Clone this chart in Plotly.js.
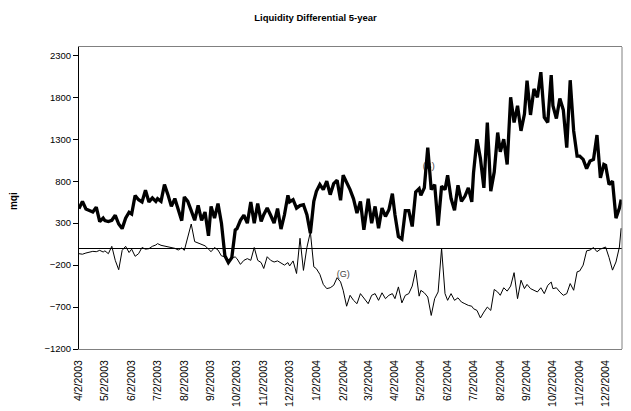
<!DOCTYPE html>
<html>
<head>
<meta charset="utf-8">
<script src="https://cdn.plot.ly/plotly-3.0.1.min.js"></script>
<style>html,body{margin:0;padding:0;background:#fff;}#chart{width:631px;height:411px;}</style>
</head>
<body>
<div id="chart"></div>
<script>
// Observation dates (every ~4 days)
const dates = [
 '2003-04-02','2003-04-06','2003-04-10','2003-04-14','2003-04-18','2003-04-22','2003-04-26','2003-04-30',
 '2003-05-02','2003-05-06','2003-05-10','2003-05-14','2003-05-18','2003-05-22','2003-05-26','2003-05-30',
 '2003-06-02','2003-06-06','2003-06-10','2003-06-14','2003-06-18','2003-06-22','2003-06-26','2003-06-30',
 '2003-07-02','2003-07-06','2003-07-10','2003-07-14','2003-07-18','2003-07-22','2003-07-26','2003-07-30',
 '2003-08-02','2003-08-06','2003-08-10','2003-08-14','2003-08-18','2003-08-22','2003-08-26','2003-08-30',
 '2003-09-02','2003-09-06','2003-09-10','2003-09-14','2003-09-18','2003-09-22','2003-09-26','2003-09-30',
 '2003-10-02','2003-10-06','2003-10-10','2003-10-14','2003-10-18','2003-10-22','2003-10-26','2003-10-30',
 '2003-11-02','2003-11-06','2003-11-10','2003-11-14','2003-11-18','2003-11-22','2003-11-26','2003-11-30',
 '2003-12-02','2003-12-06','2003-12-10','2003-12-14','2003-12-18','2003-12-22','2003-12-26','2003-12-30',
 '2004-01-02','2004-01-06','2004-01-10','2004-01-14','2004-01-18','2004-01-22','2004-01-26','2004-01-30',
 '2004-02-02','2004-02-06','2004-02-10','2004-02-14','2004-02-18','2004-02-22','2004-02-26',
 '2004-03-02','2004-03-06','2004-03-10','2004-03-14','2004-03-18','2004-03-22','2004-03-26','2004-03-30',
 '2004-04-02','2004-04-06','2004-04-10','2004-04-14','2004-04-18','2004-04-22','2004-04-26','2004-04-30',
 '2004-05-02','2004-05-06','2004-05-10','2004-05-14','2004-05-18','2004-05-22','2004-05-26','2004-05-30',
 '2004-06-02','2004-06-06','2004-06-10','2004-06-14','2004-06-18','2004-06-22','2004-06-26','2004-06-30',
 '2004-07-02','2004-07-06','2004-07-10','2004-07-14','2004-07-18','2004-07-22','2004-07-26','2004-07-30',
 '2004-08-02','2004-08-06','2004-08-10','2004-08-14','2004-08-18','2004-08-22','2004-08-26','2004-08-30',
 '2004-09-02','2004-09-06','2004-09-10','2004-09-14','2004-09-18','2004-09-22','2004-09-26','2004-09-30',
 '2004-10-02','2004-10-06','2004-10-10','2004-10-14','2004-10-18','2004-10-22','2004-10-26','2004-10-30',
 '2004-11-02','2004-11-06','2004-11-10','2004-11-14','2004-11-18','2004-11-22','2004-11-26','2004-11-30',
 '2004-12-02','2004-12-06','2004-12-10','2004-12-14','2004-12-18','2004-12-20'
];

// (S) series - thick line
const sValues = [
 473,560,470,453,433,490,320,360,
 330,320,334,394,290,235,360,430,
 410,630,580,553,692,553,600,560,
 593,560,760,640,500,593,453,330,
 612,560,450,334,513,334,433,150,
 500,360,533,300,-90,-170,-110,220,
 235,334,394,300,553,300,533,320,
 400,480,394,300,473,230,400,632,
 553,580,480,510,520,400,180,560,
 680,760,700,800,640,771,811,573,
 871,790,700,590,420,560,220,
 590,300,500,240,480,380,460,652,
 400,140,110,450,450,260,672,712,
 632,720,1200,700,760,270,740,700,
 871,593,453,752,560,620,720,553,
 900,1300,1070,720,1500,680,911,1380,
 1150,1300,1000,1800,1500,1700,1400,1600,
 2000,1590,1900,1800,2100,1560,1500,2064,
 1700,1547,1786,1650,1200,2004,1400,1100,
 1100,1060,951,1040,1060,1350,840,1000,
 990,760,800,360,480,580
];

// (G) series - thin line
const gValues = [
 -64,-70,-56,-44,-36,-40,-24,-44,
 -30,-64,24,-143,-255,-24,24,-50,
 -10,-95,-64,10,-10,-4,24,40,
 56,36,28,16,16,0,-20,5,
 -24,120,290,80,65,45,30,-10,
 -40,10,-20,-90,-100,-170,-110,-103,
 -123,-191,-143,-123,-143,10,-143,-170,
 -240,-100,-143,-163,-150,-175,-200,-170,
 -210,-150,-300,120,-263,10,195,-220,
 -243,-310,-430,-480,-470,-441,-350,-400,
 -500,-690,-560,-620,-660,-540,-600,
 -660,-560,-540,-620,-530,-600,-560,-540,
 -600,-460,-650,-560,-540,-450,-260,-570,
 -501,-530,-580,-800,-600,-520,0,-540,
 -620,-540,-620,-590,-640,-660,-680,-690,
 -720,-740,-830,-760,-700,-740,-490,-521,
 -560,-470,-510,-450,-290,-600,-380,-480,
 -430,-480,-500,-520,-470,-540,-441,-402,
 -481,-470,-520,-560,-540,-420,-500,-280,
 -270,-200,-30,-20,10,-40,-10,5,
 16,-110,-260,-163,16,240
];

const tickDates = ['2003-04-02','2003-05-02','2003-06-02','2003-07-02','2003-08-02','2003-09-02','2003-10-02',
 '2003-11-02','2003-12-02','2004-01-02','2004-02-02','2004-03-02','2004-04-02','2004-05-02','2004-06-02',
 '2004-07-02','2004-08-02','2004-09-02','2004-10-02','2004-11-02','2004-12-02'];
const tickLabels = ['4/2/2003','5/2/2003','6/2/2003','7/2/2003','8/2/2003','9/2/2003','10/2/2003',
 '11/2/2003','12/2/2003','1/2/2004','2/2/2004','3/2/2004','4/2/2004','5/2/2004','6/2/2004',
 '7/2/2004','8/2/2004','9/2/2004','10/2/2004','11/2/2004','12/2/2004'];

const seriesLabels = ['(S)','(G)'];
const labelDates = ['2004-05-11','2004-02-02'];
const labelValues = [975,-315];

const FONT = 'Liberation Sans, Arial, Helvetica, sans-serif';

const traces = [
 {x: labelDates, y: labelValues, text: seriesLabels, mode: 'text', type: 'scatter',
  textfont: {family: FONT, size: 9, color: '#444'}, hoverinfo: 'skip', showlegend: false},
 {x: dates, y: gValues, mode: 'lines', type: 'scatter', line: {color: '#000', width: 1}, showlegend: false},
 {x: dates, y: sValues, mode: 'lines', type: 'scatter', line: {color: '#000', width: 3.3}, showlegend: false}
];

const layout = {
 width: 631, height: 411,
 margin: {l: 79, r: 9, t: 47, b: 62},
 paper_bgcolor: '#fff', plot_bgcolor: '#fff',
 font: {family: FONT, color: '#000'},
 title: {text: '<b>Liquidity Differential 5-year</b>', font: {family: FONT, size: 9.5, color: '#000'},
   x: 0.5, xref: 'container', xanchor: 'center', y: 0.956, yref: 'container', yanchor: 'middle'},
 xaxis: {type: 'date', range: ['2003-04-02', '2004-12-21'], tickmode: 'array', tickvals: tickDates, ticktext: tickLabels,
   tickangle: -90, tickfont: {family: FONT, size: 10.5, color: '#000'},
   showline: true, linecolor: '#808080', linewidth: 1, mirror: true,
   ticks: 'outside', ticklen: 6, tickcolor: 'rgba(0,0,0,0)',
   showgrid: false, zeroline: false, fixedrange: true},
 yaxis: {range: [-1200, 2400], tickmode: 'linear', tick0: -1200, dtick: 500,
   tickfont: {family: FONT, size: 9.5, color: '#000'},
   ticks: 'outside', ticklen: 5, tickcolor: '#000', tickwidth: 1,
   showline: true, linecolor: '#000', linewidth: 1,
   zeroline: true, zerolinecolor: '#000', zerolinewidth: 1,
   showgrid: false, fixedrange: true},
 shapes: [{type: 'line', xref: 'paper', yref: 'paper', x0: 1, x1: 1, y0: 0, y1: 1, line: {color: '#808080', width: 1}}],
 annotations: [{text: '<b>mqi</b>', xref: 'paper', yref: 'paper', x: -0.1215, y: 0.49, xanchor: 'center', yanchor: 'middle',
   textangle: -90, showarrow: false, font: {family: FONT, size: 10, color: '#000'}}]
};

Plotly.newPlot('chart', traces, layout, {staticPlot: true, displayModeBar: false});
</script>
</body>
</html>
